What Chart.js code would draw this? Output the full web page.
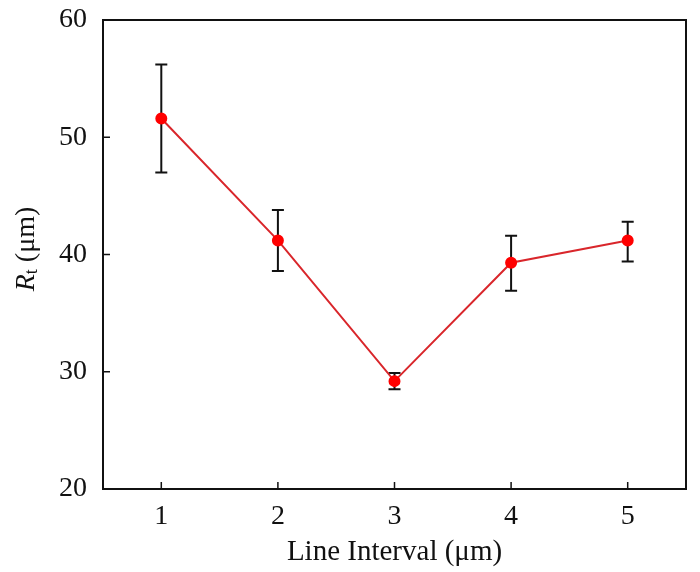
<!DOCTYPE html>
<html>
<head>
<meta charset="utf-8">
<script src="https://cdn.jsdelivr.net/npm/chart.js@4.4.1/dist/chart.umd.min.js"></script>
<style>
html,body{margin:0;padding:0;background:#fff;}
#wrap{width:700px;height:572px;position:relative;}
</style>
</head>
<body>
<div id="wrap"><canvas id="c" width="700" height="572"></canvas></div>
<script>
const categories = [1, 2, 3, 4, 5];
const meanValues = [51.6, 41.2, 29.2, 39.3, 41.2];
const errLow = [47.0, 38.6, 28.5, 36.9, 39.4];
const errHigh = [56.2, 43.8, 29.9, 41.6, 42.8];
const yTicks = [20, 30, 40, 50, 60];
const xTitle = 'Line Interval (μm)';
const yTitleMain = 'R';
const yTitleSub = 't';
const yTitleRest = ' (μm)';

const FONT = '"Liberation Serif", "Times New Roman", serif';

const framePlugin = {
  id: 'frame',
  beforeDatasetsDraw(chart) {
    const {ctx, scales} = chart;
    ctx.save();
    ctx.strokeStyle = '#111';
    ctx.lineWidth = 2;
    categories.forEach((c, i) => {
      const x = scales.x.getPixelForValue(c);
      const yl = scales.y.getPixelForValue(errLow[i]);
      const yh = scales.y.getPixelForValue(errHigh[i]);
      ctx.beginPath();
      ctx.moveTo(x, yl); ctx.lineTo(x, yh);
      ctx.moveTo(x - 6, yl); ctx.lineTo(x + 6, yl);
      ctx.moveTo(x - 6, yh); ctx.lineTo(x + 6, yh);
      ctx.stroke();
    });
    ctx.restore();
  },
  afterDraw(chart) {
    const {ctx, chartArea: a, scales} = chart;
    ctx.save();
    ctx.strokeStyle = '#111';
    ctx.lineWidth = 2;
    ctx.strokeRect(a.left, a.top, a.right - a.left, a.bottom - a.top);
    ctx.lineWidth = 1.5;
    ctx.beginPath();
    categories.forEach(c => {
      const x = scales.x.getPixelForValue(c);
      ctx.moveTo(x, a.bottom); ctx.lineTo(x, a.bottom - 7);
    });
    yTicks.forEach(v => {
      const y = scales.y.getPixelForValue(v);
      ctx.moveTo(a.left, y); ctx.lineTo(a.left + 7, y);
    });
    ctx.stroke();
    // y title with italic R and subscript t
    ctx.fillStyle = '#111';
    ctx.translate(27, 249);
    ctx.rotate(-Math.PI / 2);
    ctx.textBaseline = 'middle';
    ctx.font = 'italic 28px ' + FONT;
    const wR = ctx.measureText(yTitleMain).width;
    ctx.font = '18px ' + FONT;
    const wt = ctx.measureText(yTitleSub).width;
    ctx.font = '28px ' + FONT;
    const wRest = ctx.measureText(yTitleRest).width;
    let x0 = -(wR + wt + wRest) / 2;
    ctx.textAlign = 'left';
    ctx.font = 'italic 28px ' + FONT;
    ctx.fillText(yTitleMain, x0, 0);
    x0 += wR;
    ctx.font = '18px ' + FONT;
    ctx.fillText(yTitleSub, x0, 5);
    x0 += wt;
    ctx.font = '28px ' + FONT;
    ctx.fillText(yTitleRest, x0, 0);
    ctx.restore();
  }
};

new Chart(document.getElementById('c'), {
  type: 'line',
  data: {
    datasets: [{
      data: categories.map((c, i) => ({x: c, y: meanValues[i]})),
      borderColor: '#d9262b',
      borderWidth: 2,
      pointBackgroundColor: '#ff0000',
      pointBorderColor: '#ff0000',
      pointRadius: 5,
      tension: 0
    }]
  },
  options: {
    responsive: false,
    animation: false,
    devicePixelRatio: 1,
    layout: {padding: {top: 20, right: 14, left: 0, bottom: 0}},
    plugins: {legend: {display: false}, tooltip: {enabled: false}},
    scales: {
      x: {
        type: 'linear', min: 0.5, max: 5.5,
        grid: {display: false, drawTicks: false},
        border: {display: false},
        afterBuildTicks(s) { s.ticks = categories.map(v => ({value: v})); },
        ticks: {color: '#111', font: {family: FONT, size: 28}, padding: 11},
        title: {display: true, text: xTitle, color: '#111', font: {family: FONT, size: 29}, padding: {top: 0, bottom: 2}},
        afterFit(s) { s.height = 83; s.paddingLeft = 0; s.paddingRight = 0; }
      },
      y: {
        min: 20, max: 60,
        grid: {display: false, drawTicks: false},
        border: {display: false},
        afterBuildTicks(s) { s.ticks = yTicks.map(v => ({value: v})); },
        ticks: {color: '#111', font: {family: FONT, size: 28}, padding: 16},
        afterFit(s) { s.width = 103; s.paddingTop = 0; s.paddingBottom = 0; }
      }
    }
  },
  plugins: [framePlugin]
});
</script>
</body>
</html>
